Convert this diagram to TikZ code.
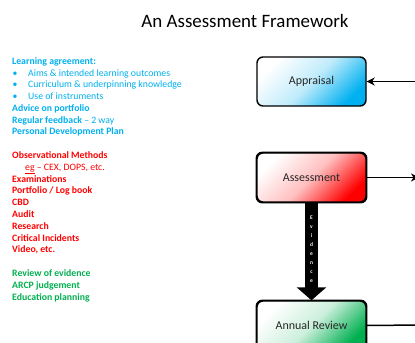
\documentclass[tikz,border=0pt]{standalone}
\usepackage{fontspec}
\setmainfont{Carlito}
\usetikzlibrary{arrows.meta}
\definecolor{cblue}{HTML}{00B0F0}
\definecolor{cred}{HTML}{FF0000}
\definecolor{cgreen}{HTML}{00B050}
\tikzset{
  lt/.style={anchor=base west, inner sep=0pt, font=\fontsize{9.8}{11.7}\selectfont},
  box/.style={draw=black, line width=1.4bp, rounded corners=6bp, minimum width=109bp, minimum height=49bp,
     inner sep=0pt, text=black!85, font=\fontsize{12}{14}\selectfont},
  conn/.style={draw=black, line width=1.5bp},
  tipS/.style={-{Stealth[length=8bp,width=8bp,inset=2.5bp]}}
}
\begin{document}
\begin{tikzpicture}[x=1bp,y=-1bp]
\useasboundingbox (0,0) rectangle (415,343);
\clip (0,0) rectangle (415,343);
\fill[white] (0,0) rectangle (415,343);
% title
\node[anchor=base, inner sep=0pt, font=\fontsize{19}{22}\selectfont] (title) at (245,27) {An Assessment Framework};
% blue block
\begin{scope}[cblue]
\node[lt, font=\fontsize{9.8}{11.7}\selectfont\bfseries] (la) at (12,64.5) {Learning agreement:};
\node[lt] (d1) at (12.5,76.2) {•};
\node[lt] (b1) at (28,76.2) {Aims \& intended learning outcomes};
\node[lt] (d2) at (12.5,87.9) {•};
\node[lt] (b2) at (28,87.9) {Curriculum \& underpinning knowledge};
\node[lt] (d3) at (12.5,99.6) {•};
\node[lt] (b3) at (28,99.6) {Use of instruments};
\node[lt, font=\fontsize{9.8}{11.7}\selectfont\bfseries] (adv) at (12,111.3) {Advice on portfolio};
\node[lt] (reg) at (12,123.0) {\textbf{Regular feedback} – 2 way};
\node[lt, font=\fontsize{9.8}{11.7}\selectfont\bfseries] (pdp) at (12,134.7) {Personal Development Plan};
\end{scope}
% red block
\begin{scope}[cred]
\tikzset{lt/.append style={font=\fontsize{9.8}{11.7}\selectfont\bfseries}}
\node[lt] (obs) at (12,158.5) {Observational Methods};
\node[lt, font=\fontsize{9.8}{11.7}\selectfont\mdseries] (eg) at (25,170.3) {\underline{eg} – CEX, DOPS, etc.};
\node[lt] (exa) at (12,182.1) {Examinations};
\node[lt] (port) at (12,193.9) {Portfolio / Log book};
\node[lt] (cbd) at (12,205.7) {CBD};
\node[lt] (aud) at (12,217.5) {Audit};
\node[lt] (res) at (12,229.3) {Research};
\node[lt] (crit) at (12,241.1) {Critical Incidents};
\node[lt] (vid) at (12,252.9) {Video, etc.};
\end{scope}
% green block
\begin{scope}[cgreen]
\tikzset{lt/.append style={font=\fontsize{9.8}{11.7}\selectfont\bfseries}}
\node[lt] (rev) at (12,276.5) {Review of evidence};
\node[lt] (arcp) at (12,288.3) {ARCP judgement};
\node[lt] (edu) at (12,300.1) {Education planning};
\end{scope}
% boxes
\node[box, top color=white, bottom color=cblue, middle color=cblue!25, shading angle=45] (appr) at (311.5,81.5) {Appraisal};
\node[box, top color=white, bottom color=cred, middle color=cred!25, shading angle=45] (assess) at (311.5,177.5) {Assessment};
\node[box, top color=white, bottom color=cgreen, middle color=cgreen!20, shading angle=45] (annual) at (311.5,325.5) {Annual Review};
% connectors
\coordinate (inA) at (420,81.5);
\coordinate (outB) at (419,177.5);
\coordinate (outC) at (420,325);
\draw[conn, tipS] (inA) -- (appr.east);
\draw[conn, tipS] (assess.east) -- (outB);
\draw[conn] (annual.east) -- (outC);
\draw[line width=13bp, -{Triangle[length=13bp,width=29bp]}] (assess.south) -- (annual.north);
\node[text=white, inner sep=0pt, align=center, font=\fontsize{5.5}{9}\selectfont\bfseries] (ev) at (311.5,249) {E\\v\\i\\d\\e\\n\\c\\e};
% redraw box outlines over arrow
\draw[line width=1.4bp, rounded corners=6bp] (assess.south west) rectangle (assess.north east);
\draw[line width=1.4bp, rounded corners=6bp] (annual.south west) rectangle (annual.north east);
\end{tikzpicture}
\end{document}
